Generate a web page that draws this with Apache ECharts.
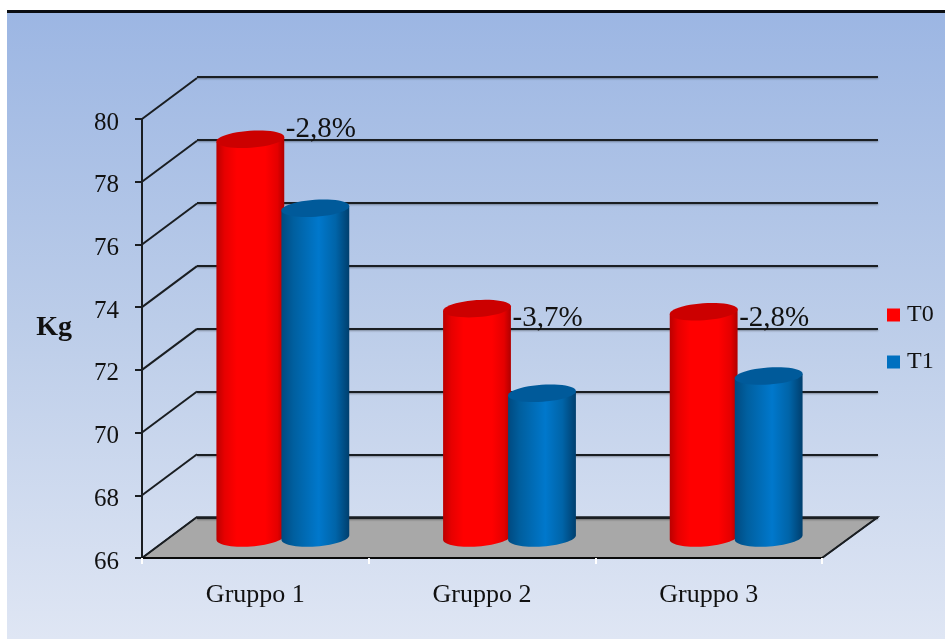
<!DOCTYPE html>
<html>
<head>
<meta charset="utf-8">
<style>html,body{margin:0;padding:0;background:#fff}#main{width:945px;height:639px}</style>
<script src="https://cdn.jsdelivr.net/npm/echarts@6/dist/echarts.min.js"></script>
</head>
<body>
<div id="main"></div>
<script>
const categories = ['Gruppo 1', 'Gruppo 2', 'Gruppo 3'];
const yTicks = [66, 68, 70, 72, 74, 76, 78, 80];
const t0Values = [78.7, 73.3, 73.2];
const t1Values = [76.5, 70.6, 71.15];
const pctLabels = ['-2,8%', '-3,7%', '-2,8%'];
const pctLabelLevels = [79.0, 73.0, 73.0];

const FONT = '"Liberation Serif", "Times New Roman", serif';
const DX = 55, DX_RIGHT = 56, DY = -41;   // wall depth of the 3D frame
const LINE = '#1a1e22';
const RX = 34, SHIFT = 32.5;        // cylinder radius and offset from the band centre
const TILT = -4 * Math.PI / 180;
const RED_STOPS = [[0,'#bb0000'],[0.12,'#e60000'],[0.3,'#ff0000'],[0.72,'#ff0000'],[0.9,'#e40000'],[1,'#b00000']];
const BLUE_STOPS = [[0,'#004a80'],[0.18,'#005f9f'],[0.55,'#0078cc'],[0.8,'#0064a8'],[1,'#003f6e']];

function ell(cx, cy, rx, ry, t0, t1, n) {
  const out = [];
  for (let i = 0; i <= n; i++) {
    const t = t0 + (t1 - t0) * i / n;
    const x = rx * Math.cos(t), y = ry * Math.sin(t);
    out.push([cx + x * Math.cos(TILT) - y * Math.sin(TILT), cy + x * Math.sin(TILT) + y * Math.cos(TILT)]);
  }
  return out;
}
function grad(stops) {
  return { type: 'linear', x: 0, y: 0, x2: 1, y2: 0,
    colorStops: stops.map(s => ({ offset: s[0], color: s[1] })) };
}
function cylinder(shift, stops, topColor) {
  return function (params, api) {
    const cat = api.value(0);
    const top = api.coord([cat, api.value(1)]);
    const base = api.coord([cat, yTicks[0]]);
    const cx = top[0] + DX / 2 + shift;
    const topY = top[1] + DY / 2, baseY = base[1] + DY / 2;
    const body = ell(cx, baseY, RX, 9, Math.PI, 0, 30).concat(ell(cx, topY, RX, 8.5, 0, Math.PI, 1).slice(0, 2));
    return { type: 'group', children: [
      { type: 'polygon', shape: { points: body }, style: { fill: grad(stops) } },
      { type: 'polygon', shape: { points: ell(cx, topY, RX, 8.5, 0, Math.PI * 2, 48) }, style: { fill: topColor } }
    ]};
  };
}
function renderFloor(params, api) {
  const c = api.coord([0, yTicks[0]]);
  const band = api.size([1, 0])[0];
  const l = c[0] - band / 2, r = l + band * categories.length, y = c[1];
  return { type: 'polygon', shape: { points: [[l, y], [r, y], [r + DX_RIGHT, y + DY], [l + DX, y + DY]] },
    style: { fill: '#a8a8a8', stroke: LINE, lineWidth: 1.5 } };
}
function renderDiagonal(params, api) {
  const c = api.coord([0, api.value(0)]);
  const band = api.size([1, 0])[0];
  const l = c[0] - band / 2, y = c[1];
  const kids = [{ type: 'line', shape: { x1: l, y1: y, x2: l + DX, y2: y + DY }, style: { stroke: LINE, lineWidth: 2 } }];
  if (api.value(0) === yTicks[0]) {
    const r = l + band * categories.length;
    kids.push({ type: 'line', shape: { x1: r, y1: y, x2: r + DX_RIGHT, y2: y + DY }, style: { stroke: LINE, lineWidth: 2 } });
  }
  return { type: 'group', children: kids };
}
function renderPct(params, api) {
  const i = params.dataIndex;
  const c = api.coord([api.value(0), api.value(1)]);
  return { type: 'text', x: c[0] + DX / 2 - SHIFT + RX + 1.5, y: c[1] + DY / 2,
    style: { text: pctLabels[i], font: '29px ' + FONT, fill: '#111', verticalAlign: 'middle', align: 'left' } };
}

const chart = echarts.init(document.getElementById('main'), null, { renderer: 'canvas' });
chart.setOption({
  animation: false,
  graphic: { elements: [
    { type: 'rect', z: -10, silent: true, shape: { x: 7, y: 12, width: 938, height: 627 },
      style: { fill: { type: 'linear', x: 0, y: 0, x2: 0, y2: 1, colorStops: [
        { offset: 0, color: '#9cb6e3' }, { offset: 0.5, color: '#bccde9' }, { offset: 1, color: '#dfe6f4' }] } } },
    { type: 'rect', z: -9, silent: true, shape: { x: 7, y: 10, width: 938, height: 3 }, style: { fill: '#0a0d12' } }
  ]},
  legend: {
    data: ['T0', 'T1'], orient: 'vertical', left: 882, top: 298, icon: 'rect',
    itemWidth: 13, itemHeight: 13, itemGap: 23, selectedMode: false,
    textStyle: { fontFamily: FONT, fontSize: 24, color: '#111', padding: [0, 0, 0, 2] }
  },
  grid: [
    { left: 142, top: 119, width: 680, height: 439 },
    { left: 197, top: 77, width: 681, height: 441 }
  ],
  xAxis: [
    { type: 'category', gridIndex: 0, data: categories, z: 5,
      axisLine: { lineStyle: { color: '#0a0a0a', width: 2 } },
      axisTick: { show: true, length: 6, lineStyle: { color: '#fff', width: 2 } },
      axisLabel: { fontFamily: FONT, fontSize: 26, color: '#111', margin: 24 } },
    { type: 'category', gridIndex: 1, data: categories, show: false }
  ],
  yAxis: [
    { type: 'value', gridIndex: 0, min: 66, max: 80, interval: 2, z: 5,
      name: 'Kg', nameLocation: 'middle', nameGap: 70, nameRotate: 0,
      nameTextStyle: { fontFamily: FONT, fontSize: 28, fontWeight: 'bold', color: '#111', verticalAlign: 'bottom', lineHeight: 21 },
      axisLine: { show: true, lineStyle: { color: LINE, width: 2 } },
      axisTick: { show: true, length: 7, lineStyle: { color: LINE, width: 2 } },
      axisLabel: { fontFamily: FONT, fontSize: 25, color: '#111', margin: 23, verticalAlign: 'top', lineHeight: 8 },
      splitLine: { show: false } },
    { type: 'value', gridIndex: 1, min: 66, max: 80, interval: 2,
      axisLine: { show: false }, axisTick: { show: false }, axisLabel: { show: false },
      splitLine: { show: true, lineStyle: { color: LINE, width: 2, shadowColor: 'rgba(0,0,0,0.35)', shadowBlur: 2, shadowOffsetY: 1 } } }
  ],
  series: [
    { type: 'custom', name: 'floor', z: -1, clip: false, silent: true, data: [[0]], encode: { x: 0 }, renderItem: renderFloor },
    { type: 'custom', name: 'frame', z: 1, clip: false, silent: true, data: yTicks.map(v => [v]), encode: { y: 0 }, renderItem: renderDiagonal },
    { type: 'custom', name: 'T0', z: 2, clip: false, itemStyle: { color: '#ff0000' },
      data: t0Values.map((v, i) => [i, v]), encode: { x: 0, y: 1 }, renderItem: cylinder(-SHIFT, RED_STOPS, '#cc0000') },
    { type: 'custom', name: 'T1', z: 3, clip: false, itemStyle: { color: '#0070c0' },
      data: t1Values.map((v, i) => [i, v]), encode: { x: 0, y: 1 }, renderItem: cylinder(SHIFT, BLUE_STOPS, '#005a9a') },
    { type: 'custom', name: 'pct', z: 4, clip: false, silent: true,
      data: pctLabelLevels.map((v, i) => [i, v]), encode: { x: 0, y: 1 }, renderItem: renderPct }
  ]
});
</script>
</body>
</html>
